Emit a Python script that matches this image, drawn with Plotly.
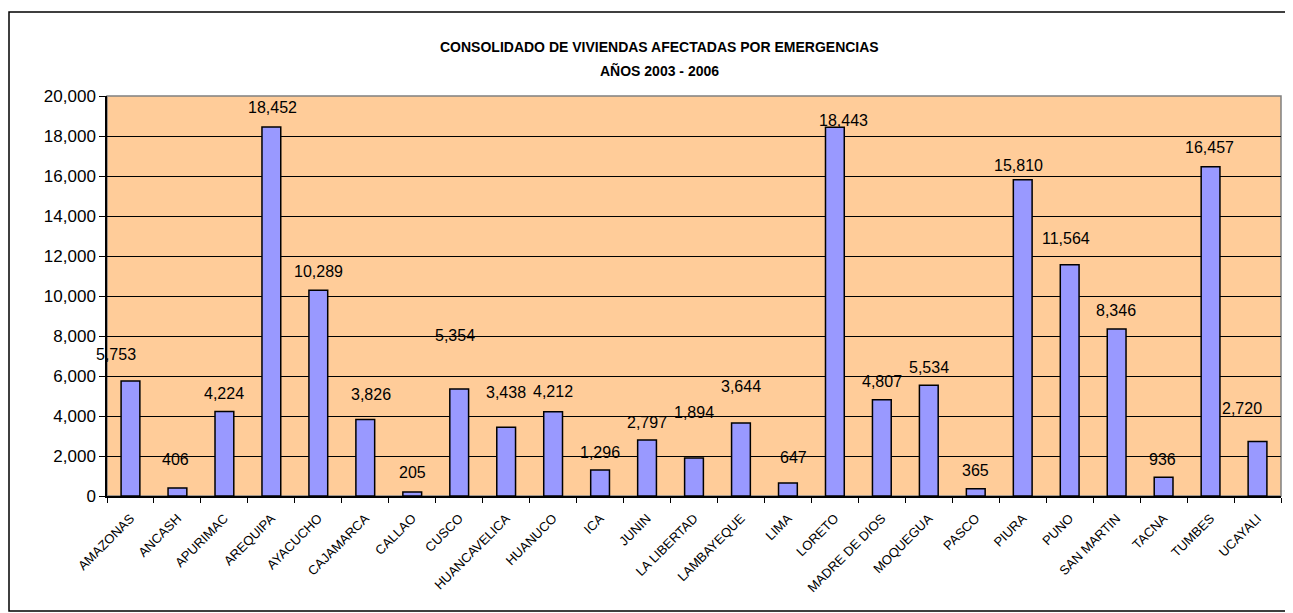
import plotly.graph_objects as go

categories = ["AMAZONAS", "ANCASH", "APURIMAC", "AREQUIPA", "AYACUCHO", "CAJAMARCA",
              "CALLAO", "CUSCO", "HUANCAVELICA", "HUANUCO", "ICA", "JUNIN",
              "LA LIBERTAD", "LAMBAYEQUE", "LIMA", "LORETO", "MADRE DE DIOS",
              "MOQUEGUA", "PASCO", "PIURA", "PUNO", "SAN MARTIN", "TACNA",
              "TUMBES", "UCAYALI"]
viviendas = [5753, 406, 4224, 18452, 10289, 3826, 205, 5354, 3438, 4212, 1296, 2797,
             1894, 3644, 647, 18443, 4807, 5534, 365, 15810, 11564, 8346, 936,
             16457, 2720]
y_ticks = [0, 2000, 4000, 6000, 8000, 10000, 12000, 14000, 16000, 18000, 20000]

# label placement offsets in pixels (as placed in the original chart)
label_dx = [-14, -2, 0, 1, 0, 6, 0, -4, 0, 0, 0, 0, 0, 0, 6, 9, 0, 0, 0, -4, -4, -1, -1, -1, -16]
label_dy = [26, 28, 18, 19, 19, 25, 19, 53, 35, 20, 18, 18, 46, 37, 26, 7, 18, 18, 18, 14, 26, 19, 18, 19, 33]

# the page body has an 8px margin; work in screen pixels and convert
OFF = 8
W, H = 1293 - OFF, 613 - OFF
ml, mr, mt, mb = 107 - OFF, 12, 96 - OFF, 117
pw, ph = W - ml - mr, H - mt - mb

def px_x(p):
    return (p - OFF - ml) / pw

def px_y(p):
    return (H - mb - (p - OFF)) / ph

fig = go.Figure()
fig.add_trace(go.Bar(
    x=categories, y=viviendas,
    marker=dict(color="#9999FF", line=dict(color="#000000", width=1.5)),
    hoverinfo="x+y",
))

annotations = []
for c, v, dx, dy in zip(categories, viviendas, label_dx, label_dy):
    annotations.append(dict(
        x=c, y=v, xref="x", yref="y", text=f"{v:,}", showarrow=False,
        xshift=dx, yshift=dy,
        font=dict(family="Liberation Sans, Arial, sans-serif", size=16, color="#000000"),
    ))

title_font = dict(family="Liberation Sans Narrow, Arial Narrow, Liberation Sans, sans-serif",
                  size=14, color="#000000")
annotations.append(dict(
    x=px_x(659), y=px_y(47), xref="paper", yref="paper",
    text="<b>CONSOLIDADO DE VIVIENDAS AFECTADAS POR EMERGENCIAS</b>",
    showarrow=False, xanchor="center", yanchor="middle", font=title_font,
))
annotations.append(dict(
    x=px_x(659), y=px_y(70), xref="paper", yref="paper",
    text="<b>AÑOS 2003 - 2006</b>",
    showarrow=False, xanchor="center", yanchor="middle", font=title_font,
))

shapes = [
    dict(type="rect", xref="paper", yref="paper", x0=0, y0=0, x1=1, y1=1,
         line=dict(color="#808080", width=1.5), layer="below"),
    dict(type="rect", xref="paper", yref="paper",
         x0=px_x(9), x1=px_x(1288), y0=px_y(611), y1=px_y(12),
         line=dict(color="#000000", width=1.5)),
]

fig.update_layout(
    width=W, height=H,
    margin=dict(l=ml, r=mr, t=mt, b=mb, pad=0),
    paper_bgcolor="#FFFFFF",
    plot_bgcolor="#FFCC99",
    bargap=0.6,
    showlegend=False,
    annotations=annotations,
    shapes=shapes,
    xaxis=dict(
        type="category", tickson="boundaries", ticks="outside", ticklen=5,
        tickcolor="#000000", tickwidth=1, showgrid=False,
        showline=True, linecolor="#000000", linewidth=1.5,
        tickangle=-45, ticklabelstandoff=8,
        tickfont=dict(family="Liberation Sans, Arial, sans-serif", size=13, color="#000000"),
        range=[-0.5, len(categories) - 0.5],
    ),
    yaxis=dict(
        range=[0, 20000], tickvals=y_ticks,
        ticktext=[f"{t:,}" for t in y_ticks],
        ticks="outside", ticklen=6, tickcolor="#000000",
        showgrid=True, gridcolor="#000000", gridwidth=1,
        showline=True, linecolor="#000000", linewidth=1.5,
        zeroline=False,
        tickfont=dict(family="Liberation Sans, Arial, sans-serif", size=17, color="#000000"),
    ),
)

fig.write_html("out.html")
